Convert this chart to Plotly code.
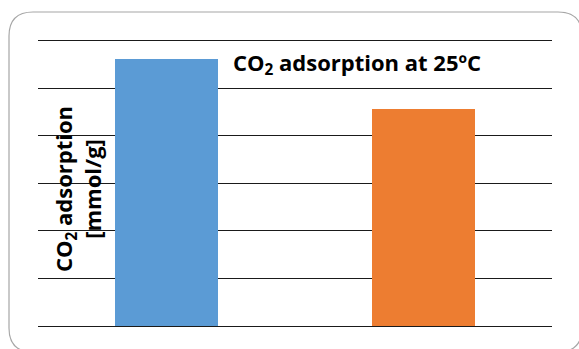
import plotly.graph_objects as go

# Data
categories = ["A", "B"]
values = [5.62, 4.57]
bar_colors = ["#5b9bd5", "#ed7d31"]
y_ticks = [0, 1, 2, 3, 4, 5, 6]

W, H = 579, 349
L, R, T, B = 38, 27, 36, 23
pw, ph = W - L - R, H - T - B
y_top = 6.1

def px_to_paper_x(px):
    return (px - L) / pw

def px_to_paper_y(py):
    return (H - B - py) / ph

fig = go.Figure(
    go.Bar(
        x=categories,
        y=values,
        marker=dict(color=bar_colors, line=dict(width=0)),
        width=0.4,
    )
)

# rounded frame around the chart
x0, x1 = px_to_paper_x(9), px_to_paper_x(582)
y0, y1 = px_to_paper_y(352), px_to_paper_y(12)
rx = 24 / pw
ry = 24 / ph
path = (
    f"M {x0+rx},{y1} L {x1-rx},{y1} Q {x1},{y1} {x1},{y1-ry} "
    f"L {x1},{y0+ry} Q {x1},{y0} {x1-rx},{y0} "
    f"L {x0+rx},{y0} Q {x0},{y0} {x0},{y0+ry} "
    f"L {x0},{y1-ry} Q {x0},{y1} {x0+rx},{y1} Z"
)
fig.add_shape(type="path", path=path, xref="paper", yref="paper",
              line=dict(color="#a6a6a6", width=1.2), layer="below")

fig.update_layout(
    width=W, height=H,
    margin=dict(l=L, r=R, t=T, b=B),
    paper_bgcolor="white",
    plot_bgcolor="white",
    showlegend=False,
    bargap=0,
    title=dict(
        text="<b>CO<sub>2</sub> adsorption at 25ºC</b>",
        x=357 / W, xanchor="center",
        y=1 - 63 / H, yanchor="middle",
        font=dict(family="Open Sans", size=22, color="black"),
    ),
    xaxis=dict(
        range=[-0.5, 1.5],
        showticklabels=False, showgrid=False, zeroline=False,
        showline=False, ticks="",
    ),
    yaxis=dict(
        range=[0, y_top],
        tickvals=y_ticks,
        showticklabels=False,
        showgrid=True, gridcolor="#1a1a1a", gridwidth=1.3,
        zeroline=True, zerolinecolor="#1a1a1a", zerolinewidth=1.3,
        showline=False, ticks="",
    ),
)

# y axis title, two rotated lines
fig.add_annotation(
    text="<b>CO<sub>2</sub> adsorption<br>[mmol/g]</b>",
    xref="paper", yref="paper",
    x=px_to_paper_x(77), y=px_to_paper_y(189),
    xanchor="center", yanchor="middle",
    textangle=-90, showarrow=False,
    font=dict(family="Open Sans", size=22, color="black"),
)

fig.write_html("out.html")
